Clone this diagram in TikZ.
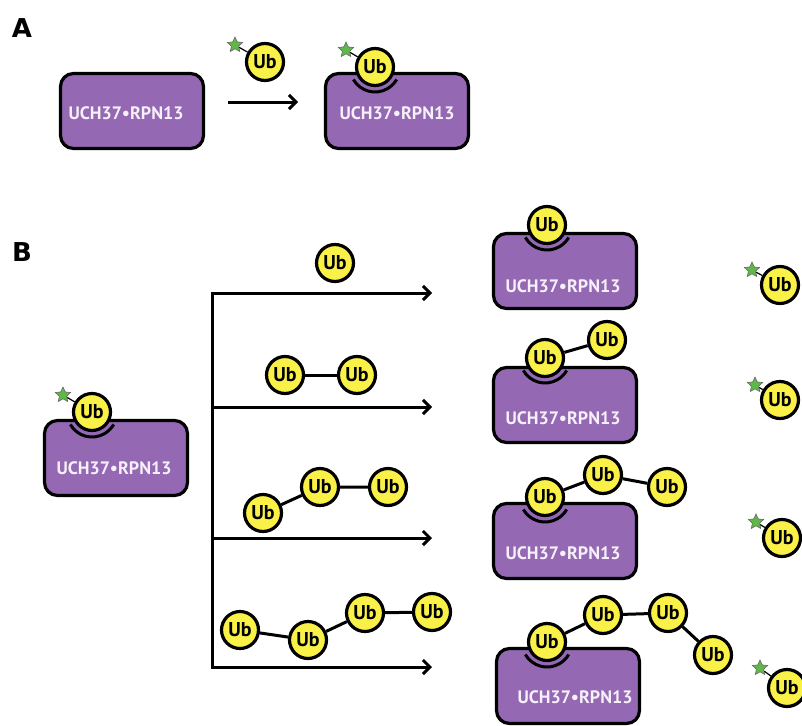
\documentclass[tikz,border=0pt]{standalone}
\usepackage{fontspec}
\setmainfont{PT Sans}
\newfontfamily\panelfont{DejaVu Sans}
\usetikzlibrary{shapes.geometric,arrows.meta}
\definecolor{uch_purple}{RGB}{148,104,178}
\definecolor{ub_yellow}{RGB}{250,241,72}
\definecolor{tag_green}{RGB}{96,184,72}
\definecolor{uch_text}{RGB}{246,240,250}

\begin{document}
\begin{tikzpicture}[x=1pt,y=-1pt,
  complex/.style={draw=black,line width=3.2pt,fill=uch_purple,rounded corners=13pt,
    minimum width=143pt,minimum height=75pt},
  complex text/.style={text=uch_text,font=\bfseries\fontsize{18}{18}\selectfont,inner sep=0pt},
  ub/.style={circle,draw=black,line width=3.2pt,fill=ub_yellow,minimum size=37pt,
    inner sep=0pt,font=\bfseries\fontsize{20}{20}\selectfont},
  tag/.style={star,star points=5,star point ratio=2.1,draw=black!60,line width=0.6pt,
    fill=tag_green,minimum size=16pt,inner sep=0pt},
  link/.style={line width=3pt},
  tag link/.style={line width=1.2pt},
  bound/.style={line width=3pt},
  step arrow/.style={line width=3pt,-{Straight Barb[length=7pt,width=14pt]}},
  panel/.style={font=\panelfont\bfseries\fontsize{26}{26}\selectfont},
  ]
  \useasboundingbox (0,0) rectangle (802,725);

  % panel A
  \node[panel] (labA) at (22,28) {A};
  \node[complex] (boxA1) at (132,111) {};
  \node[complex text] (txtA1) at (126,113) {UCH37\textbullet RPN13};
  \coordinate (arrA1) at (228,102);
  \coordinate (arrA2) at (298,102);
  \draw[step arrow] (arrA1) -- (arrA2);
  \node[ub] (ubA1) at (265,62) {Ub};
  \node[tag] (tagA1) at (235,45) {};
  \draw[tag link] (tagA1) -- (ubA1);
  \node[complex] (boxA2) at (397,111) {};
  \node[complex text] (txtA2) at (397,113) {UCH37\textbullet RPN13};
  \draw[bound] (375,67) ++(150:25) arc[start angle=150,end angle=30,radius=25];
  \node[ub] (ubA2) at (375,67) {Ub};
  \node[tag] (tagA2) at (346,50) {};
  \draw[tag link] (tagA2) -- (ubA2);

  % panel B
  \node[panel] (labB) at (22,252) {B};
  \node[complex] (boxB0) at (116,458) {};
  \node[complex text] (txtB0) at (114,468) {UCH37\textbullet RPN13};
  \draw[bound] (92,412) ++(150:25) arc[start angle=150,end angle=30,radius=25];
  \node[ub] (ubB0) at (92,412) {Ub};
  \node[tag] (tagB0) at (63,395) {};
  \draw[tag link] (tagB0) -- (ubB0);

  % branching arrows
  \foreach \y/\n in {293/1,407/2,538/3,667/4}{
    \coordinate (s\n) at (212,\y);
    \coordinate (e\n) at (432,\y);
    \draw[step arrow] (s\n) -- (e\n);
  }
  \draw[link,line cap=rect] (s1) -- (s4);

  % free chains
  \node[ub] (f11) at (335,263) {Ub};
  \node[ub] (f21) at (285,375) {Ub};
  \node[ub] (f22) at (357,375) {Ub};
  \draw[link] (f21) -- (f22);
  \node[ub] (f31) at (263,513) {Ub};
  \node[ub] (f32) at (320,487) {Ub};
  \node[ub] (f33) at (388,487) {Ub};
  \draw[link] (f31) -- (f32) -- (f33);
  \node[ub] (f41) at (240,630) {Ub};
  \node[ub] (f42) at (308,640) {Ub};
  \node[ub] (f43) at (365,613) {Ub};
  \node[ub] (f44) at (432,612) {Ub};
  \draw[link] (f41) -- (f42) -- (f43) -- (f44);

  % bound products
  \node[complex] (boxB1) at (565,271) {};
  \node[complex text] (txtB1) at (563,286) {UCH37\textbullet RPN13};
  \draw[bound] (547,225) ++(150:25) arc[start angle=150,end angle=30,radius=25];
  \node[ub] (b11) at (547,225) {Ub};

  \node[complex] (boxB2) at (565,405) {};
  \node[complex text] (txtB2) at (563,418) {UCH37\textbullet RPN13};
  \draw[bound] (545,358) ++(150:25) arc[start angle=150,end angle=30,radius=25];
  \node[ub] (b21) at (545,358) {Ub};
  \node[ub] (b22) at (607,340) {Ub};
  \draw[link] (b21) -- (b22);

  \node[complex] (boxB3) at (565,541) {};
  \node[complex text] (txtB3) at (563,553) {UCH37\textbullet RPN13};
  \draw[bound] (545,497) ++(150:25) arc[start angle=150,end angle=30,radius=25];
  \node[ub] (b31) at (545,497) {Ub};
  \node[ub] (b32) at (603,475) {Ub};
  \node[ub] (b33) at (667,487) {Ub};
  \draw[link] (b31) -- (b32) -- (b33);

  \node[complex] (boxB4) at (568,686) {};
  \node[complex text] (txtB4) at (575,697) {UCH37\textbullet RPN13};
  \draw[bound] (547,642) ++(150:25) arc[start angle=150,end angle=30,radius=25];
  \node[ub] (b41) at (547,642) {Ub};
  \node[ub] (b42) at (603,615) {Ub};
  \node[ub] (b43) at (668,613) {Ub};
  \node[ub] (b44) at (713,655) {Ub};
  \draw[link] (b41) -- (b42) -- (b43) -- (b44);

  % released tagged Ub
  \node[ub] (r1) at (780,285) {Ub};
  \node[tag] (t1) at (752,270) {};
  \draw[tag link] (t1) -- (r1);
  \node[ub] (r2) at (780,400) {Ub};
  \node[tag] (t2) at (755,385) {};
  \draw[tag link] (t2) -- (r2);
  \node[ub] (r3) at (782,538) {Ub};
  \node[tag] (t3) at (756,522) {};
  \draw[tag link] (t3) -- (r3);
  \node[ub] (r4) at (787,688) {Ub};
  \node[tag] (t4) at (760,668) {};
  \draw[tag link] (t4) -- (r4);
\end{tikzpicture}
\end{document}
